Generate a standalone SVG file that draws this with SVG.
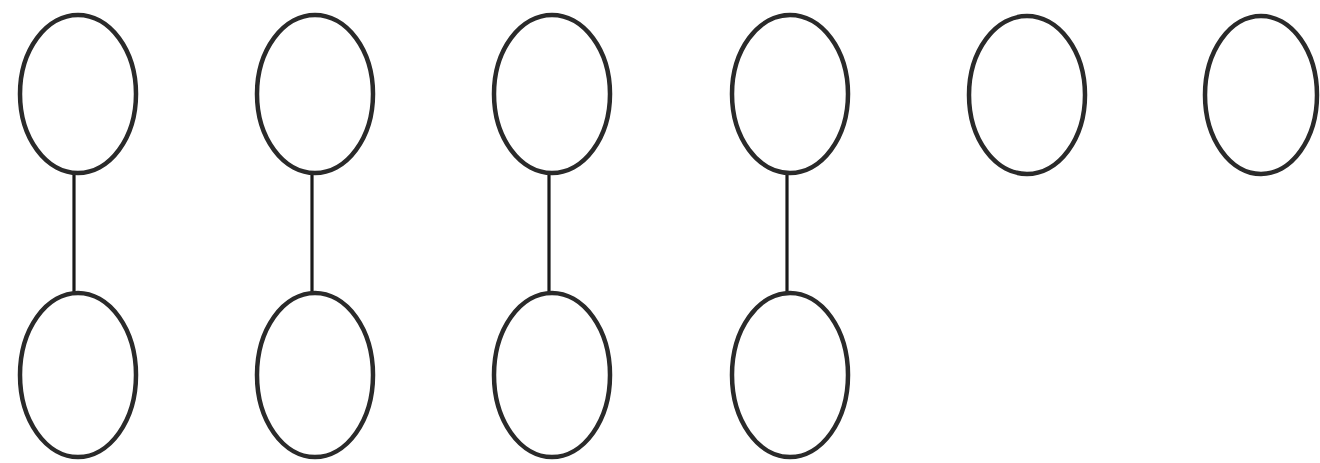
<svg xmlns="http://www.w3.org/2000/svg" width="1320" height="463" viewBox="0 0 1320 463">
<style>
.n{fill:#fff;stroke:#2a2a2a;stroke-width:4.5}
.e{stroke:#1a1a1a;stroke-width:3.2}
</style>
<rect width="1320" height="463" fill="#fff"/>
<g id="edges">
<line class="e" x1="74" y1="172" x2="74" y2="294"/>
<line class="e" x1="312" y1="172" x2="312" y2="294"/>
<line class="e" x1="549" y1="172" x2="549" y2="294"/>
<line class="e" x1="787" y1="172" x2="787" y2="294"/>
</g>
<g id="n1"><ellipse class="n" cx="78" cy="94" rx="58" ry="79"/></g>
<g id="n2"><ellipse class="n" cx="315" cy="94" rx="58" ry="79"/></g>
<g id="n3"><ellipse class="n" cx="552" cy="94" rx="58" ry="79"/></g>
<g id="n4"><ellipse class="n" cx="790" cy="94" rx="58" ry="79"/></g>
<g id="n5"><ellipse class="n" cx="1027" cy="95" rx="58" ry="79"/></g>
<g id="n6"><ellipse class="n" cx="1261" cy="95" rx="56" ry="79"/></g>
<g id="n7"><ellipse class="n" cx="78" cy="375" rx="58" ry="82"/></g>
<g id="n8"><ellipse class="n" cx="315" cy="375" rx="58" ry="82"/></g>
<g id="n9"><ellipse class="n" cx="552" cy="375" rx="58" ry="82"/></g>
<g id="n10"><ellipse class="n" cx="790" cy="375" rx="58" ry="82"/></g>
</svg>
